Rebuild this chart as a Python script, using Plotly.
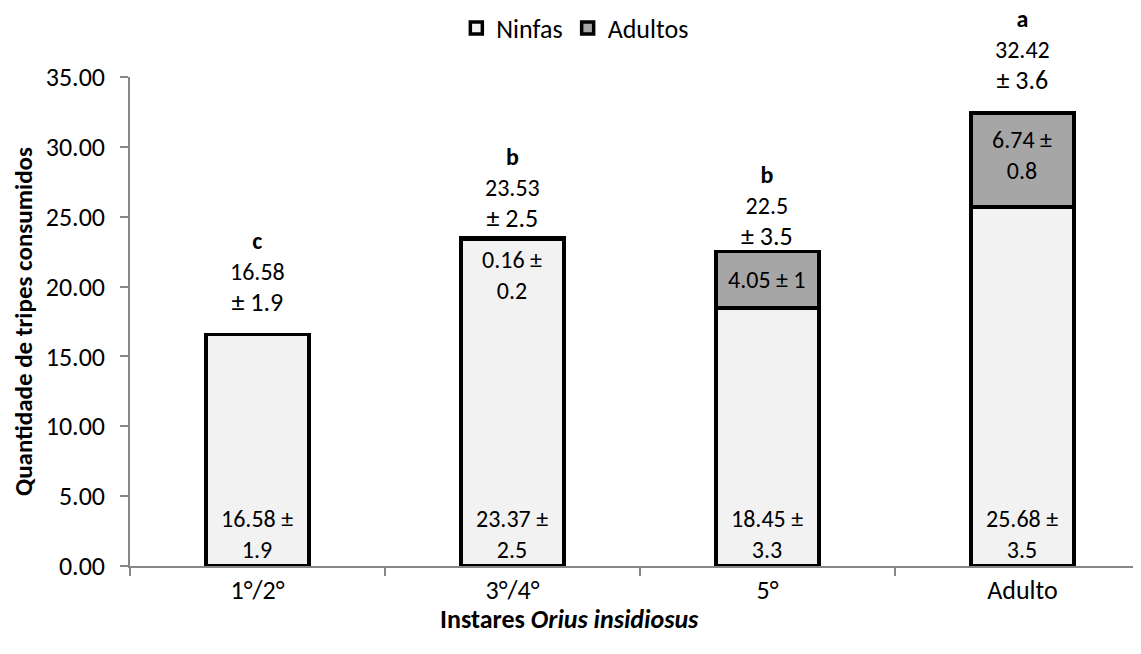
import plotly.graph_objects as go

categories = ["1°/2°", "3°/4°", "5°", "Adulto"]
ninfas = [16.58, 23.37, 18.45, 25.68]
adultos = [0.0, 0.16, 4.05, 6.74]
totals = [16.58, 23.53, 22.5, 32.42]
total_se = ["1.9", "2.5", "3.5", "3.6"]
letters = ["c", "b", "b", "a"]
ninfa_labels = ["16.58 ±<br>1.9", "23.37 ±<br>2.5", "18.45 ±<br>3.3", "25.68 ±<br>3.5"]
adult_labels = ["", "0.16 ±<br>0.2", "4.05 ± 1", "6.74 ±<br>0.8"]
adult_label_y = [None, 20.8, 20.5, 29.4]
total_label_shift = [14, 1, -2, 15]

FONT = "Carlito, Lato, sans-serif"
AX = "#868686"

fig = go.Figure()
fig.add_trace(go.Bar(x=categories, y=ninfas, name="Ninfas",
                     marker=dict(color="#f2f2f2", line=dict(color="black", width=3.5))))
fig.add_trace(go.Bar(x=categories, y=adultos, name="Adultos",
                     marker=dict(color="#a6a6a6", line=dict(color="black", width=3.5))))

ann = []
for i, c in enumerate(categories):
    ann.append(dict(x=c, y=totals[i], yref="y", xref="x", yanchor="bottom", yshift=total_label_shift[i],
                    text=f"<b>{letters[i]}</b><br>{totals[i]}<br><span style='font-size:26px'>± {total_se[i]}</span>",
                    showarrow=False, font=dict(size=24, color="black", family=FONT)))
    ann.append(dict(x=c, y=0, yref="y", xref="x", yanchor="bottom", yshift=0,
                    text=ninfa_labels[i], showarrow=False,
                    font=dict(size=24, color="black", family=FONT)))
    if adult_labels[i]:
        ann.append(dict(x=c, y=adult_label_y[i], yref="y", xref="x", yanchor="middle",
                        text=adult_labels[i], showarrow=False,
                        font=dict(size=24, color="black", family=FONT)))

ann.append(dict(x=0.435, y=-0.108, xref="paper", yref="paper", yanchor="middle", showarrow=False,
                text="<b>Instares <i>Orius insidiosus</i></b>",
                font=dict(size=26, color="black", family=FONT)))

fig.update_layout(
    barmode="stack",
    bargap=0.596,
    width=1133, height=646,
    margin=dict(l=122, r=0, t=69, b=88, autoexpand=False),
    paper_bgcolor="white", plot_bgcolor="white",
    font=dict(family=FONT, size=26, color="black"),
    showlegend=True,
    legend=dict(orientation="h", x=0.44, xanchor="center", y=1.1, yanchor="middle",
                font=dict(size=26, family=FONT), itemwidth=30, traceorder="normal",
                bgcolor="rgba(0,0,0,0)"),
    annotations=ann,
    xaxis=dict(range=[-0.5, 3.465], showline=True, linecolor=AX, linewidth=1.5,
               ticks="outside", ticklen=8, tickcolor=AX, tickwidth=1.5,
               tickson="boundaries", showgrid=False,
               tickfont=dict(size=26, family=FONT)),
    yaxis=dict(range=[0, 35], dtick=5, tickformat=".2f", showline=True, linecolor=AX,
               linewidth=1.5, ticks="outside", ticklen=8, tickcolor=AX, tickwidth=1.5,
               showgrid=False, zeroline=False, ticklabelstandoff=10,
               tickfont=dict(size=26, family=FONT),
               title=dict(text="<b>Quantidade de tripes consumidos</b>", standoff=15,
                          font=dict(size=25, family=FONT))),
)

fig.write_html("out.html")
